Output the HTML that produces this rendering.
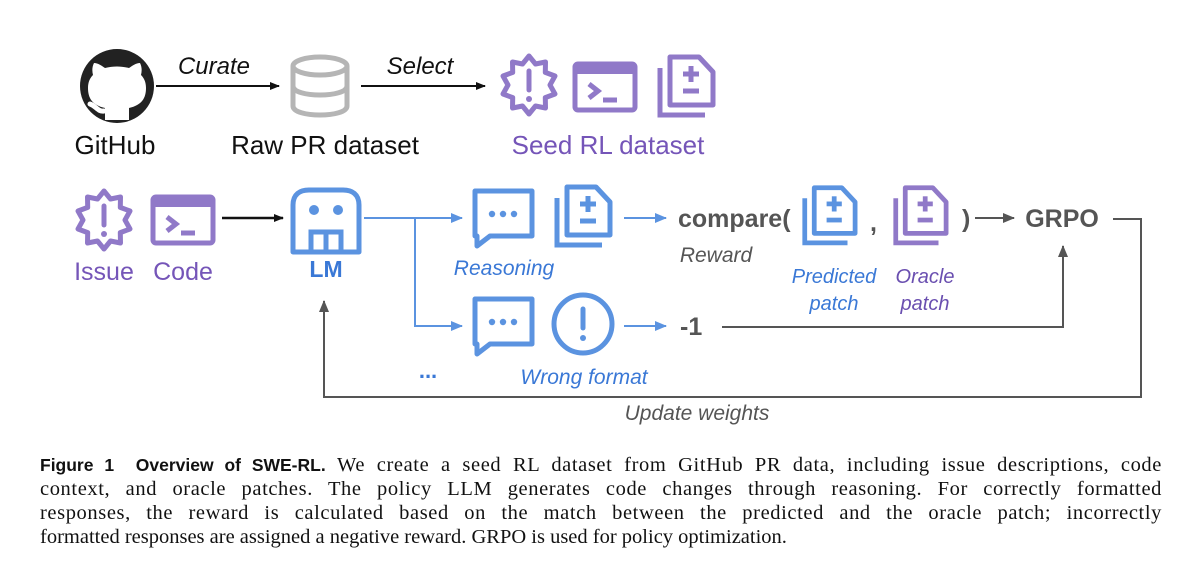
<!DOCTYPE html>
<html><head><meta charset="utf-8"><style>
html,body{margin:0;padding:0;background:#fff;}
body{width:1200px;height:575px;position:relative;overflow:hidden;}
svg{position:absolute;left:0;top:0;}
.s{font-family:"Liberation Sans","DejaVu Sans",sans-serif;}
#cap{position:absolute;left:40px;top:453px;width:1122px;font-family:"Liberation Serif",serif;font-size:20.5px;line-height:24px;color:#111;}
#cap div{text-align:justify;text-align-last:justify;white-space:nowrap;letter-spacing:0.6px;}
#cap div.l{text-align-last:left;letter-spacing:0;}
#cap b{font-family:"Liberation Sans",sans-serif;font-size:17.5px;letter-spacing:0;}
</style></head><body>
<svg width="1200" height="450" viewBox="0 0 1200 450">
<defs>
<marker id="ak" markerWidth="10" markerHeight="8" refX="9" refY="4" orient="auto" markerUnits="userSpaceOnUse"><path d="M0,0 L10,4 L0,8z" fill="#111"/></marker>
<marker id="ab" markerWidth="12" markerHeight="10" refX="11" refY="5" orient="auto" markerUnits="userSpaceOnUse"><path d="M0,0 L12,5 L0,10z" fill="#5b93e0"/></marker>
<marker id="ag" markerWidth="12" markerHeight="10" refX="11" refY="5" orient="auto" markerUnits="userSpaceOnUse"><path d="M0,0 L12,5 L0,10z" fill="#555"/></marker>
<g id="badge">
<polygon points="32,2 38.5,10 48.5,8 48.3,18.4 58,22 53,31 58,40 48.3,43.6 48.5,54 38.5,52 32,60 25.5,52 15.5,54 15.7,43.6 6,40 11,31 6,22 15.7,18.4 15.5,8 25.5,10" fill="none" stroke-width="5" stroke-linejoin="round"/>
<line x1="32" y1="17" x2="32" y2="36" stroke-width="5" stroke-linecap="round"/>
<circle cx="32" cy="45" r="3" stroke="none"/>
</g>
<g id="term">
<rect x="3" y="3" width="60" height="46" rx="3" fill="none" stroke-width="5"/>
<rect x="3" y="3" width="60" height="10" stroke="none"/>
<polyline points="17,23 26,30 17,37" fill="none" stroke-width="5"/>
<line x1="31" y1="39" x2="45" y2="39" stroke-width="5"/>
</g>
<g id="docs">
<polyline points="5,16 5,63 50,63" fill="none" stroke-width="5"/>
<path d="M15,5 H44 L58,20 V53 H15 Z" fill="none" stroke-width="5" stroke-linejoin="round"/>
<line x1="36" y1="14" x2="36" y2="30" stroke-width="5"/>
<line x1="28" y1="22" x2="44" y2="22" stroke-width="5"/>
<line x1="28" y1="39" x2="44" y2="39" stroke-width="5"/>
</g>
<g id="bub">
<path d="M5,5 H62 V50 H20 L7,60 V50 H5 Z" fill="none" stroke="#5b93e0" stroke-width="5" stroke-linejoin="round"/>
<circle cx="22" cy="28" r="3.2" fill="#5b93e0"/><circle cx="33" cy="28" r="3.2" fill="#5b93e0"/><circle cx="44" cy="28" r="3.2" fill="#5b93e0"/>
</g>
</defs>

<circle cx="117" cy="86" r="37" fill="#222"/>
<path d="M105,120 V108 C92,105 88,98 88,88 C88,82 90,78 93,75 C92,71 92,67 94,63 C98,63 102,66 105,68 C113,66 121,66 129,68 C132,66 136,63 140,63 C142,67 142,71 141,75 C144,78 146,82 146,88 C146,98 142,105 129,108 V120 Z" fill="#fff"/>
<path d="M104,111 C98,112 96,106 90,104" fill="none" stroke="#fff" stroke-width="5" stroke-linecap="round"/>
<text x="115" y="154" class="s" font-size="26" text-anchor="middle" fill="#111">GitHub</text>

<line x1="156" y1="86" x2="279" y2="86" stroke="#111" stroke-width="2" marker-end="url(#ak)"/>
<text x="214" y="74" class="s" font-size="24" font-style="italic" text-anchor="middle" fill="#111">Curate</text>

<g fill="none" stroke="#b5b5b5" stroke-width="5">
<ellipse cx="320" cy="66" rx="27" ry="9"/>
<path d="M293,66 V106 C293,118 347,118 347,106 V66"/>
<path d="M293,86 C293,98 347,98 347,86"/>
</g>
<text x="325" y="154" class="s" font-size="26" text-anchor="middle" fill="#111">Raw PR dataset</text>

<line x1="361" y1="86" x2="485" y2="86" stroke="#111" stroke-width="2" marker-end="url(#ak)"/>
<text x="420" y="74" class="s" font-size="24" font-style="italic" text-anchor="middle" fill="#111">Select</text>

<g fill="#9079c8" stroke="#9079c8">
<use href="#badge" transform="translate(497,54)"/>
<use href="#term" transform="translate(572,61)"/>
<use href="#docs" transform="translate(655,52)"/>
</g>
<text x="608" y="154" class="s" font-size="26" text-anchor="middle" fill="#7555b8">Seed RL dataset</text>

<g fill="#9079c8" stroke="#9079c8">
<use href="#badge" transform="translate(72,189)"/>
<use href="#term" transform="translate(150,194)"/>
</g>
<text x="104" y="280" class="s" font-size="25" text-anchor="middle" fill="#7555b8">Issue</text>
<text x="183" y="280" class="s" font-size="25" text-anchor="middle" fill="#7555b8">Code</text>
<line x1="222" y1="218" x2="283" y2="218" stroke="#111" stroke-width="2.5" marker-end="url(#ak)"/>

<path d="M293,252 V205 C293,194 300,190 309,190 H343 C352,190 359,194 359,205 V252 Z" fill="none" stroke="#5b93e0" stroke-width="5" stroke-linejoin="round"/>
<circle cx="314" cy="210" r="5" fill="#5b93e0"/><circle cx="338" cy="210" r="5" fill="#5b93e0"/>
<path d="M311,252 V232 H341 V252 M326,232 V252" fill="none" stroke="#5b93e0" stroke-width="5"/>
<text x="326" y="277" class="s" font-size="23" font-weight="bold" text-anchor="middle" fill="#3a78d6">LM</text>

<line x1="364" y1="218" x2="462" y2="218" stroke="#5b93e0" stroke-width="2" marker-end="url(#ab)"/>
<polyline points="415,218 415,326 462,326" fill="none" stroke="#5b93e0" stroke-width="2" marker-end="url(#ab)"/>
<text x="428" y="378" class="s" font-size="22" font-weight="bold" text-anchor="middle" fill="#3a78d6">...</text>

<use href="#bub" transform="translate(470,186)"/>
<g fill="#5b93e0" stroke="#5b93e0"><use href="#docs" transform="translate(552,182)"/></g>
<text x="504" y="275" class="s" font-size="21" font-style="italic" text-anchor="middle" fill="#3a78d6">Reasoning</text>
<line x1="624" y1="218" x2="666" y2="218" stroke="#5b93e0" stroke-width="2" marker-end="url(#ab)"/>

<text x="678" y="227" class="s" font-size="25" font-weight="bold" fill="#555">compare(</text>
<text x="716" y="262" class="s" font-size="21" font-style="italic" text-anchor="middle" fill="#555">Reward</text>
<g fill="#5b93e0" stroke="#5b93e0"><use href="#docs" transform="translate(800,183) scale(0.95)"/></g>
<text x="870" y="231" class="s" font-size="25" font-weight="bold" fill="#555">,</text>
<g fill="#9079c8" stroke="#9079c8"><use href="#docs" transform="translate(891,183) scale(0.95)"/></g>
<text x="962" y="227" class="s" font-size="25" font-weight="bold" fill="#555">)</text>
<line x1="975" y1="218" x2="1014" y2="218" stroke="#555" stroke-width="2" marker-end="url(#ag)"/>
<text x="1062" y="227" class="s" font-size="25" font-weight="bold" text-anchor="middle" fill="#555">GRPO</text>
<text x="834" y="283" class="s" font-size="20" font-style="italic" text-anchor="middle" fill="#3a78d6">Predicted</text>
<text x="834" y="310" class="s" font-size="20" font-style="italic" text-anchor="middle" fill="#3a78d6">patch</text>
<text x="925" y="283" class="s" font-size="20" font-style="italic" text-anchor="middle" fill="#6a4fb0">Oracle</text>
<text x="925" y="310" class="s" font-size="20" font-style="italic" text-anchor="middle" fill="#6a4fb0">patch</text>

<use href="#bub" transform="translate(470,294)"/>
<circle cx="583" cy="324" r="29" fill="none" stroke="#5b93e0" stroke-width="5"/>
<line x1="583" y1="309" x2="583" y2="328" stroke="#5b93e0" stroke-width="5" stroke-linecap="round"/>
<circle cx="583" cy="338" r="3" fill="#5b93e0"/>
<text x="584" y="384" class="s" font-size="21" font-style="italic" text-anchor="middle" fill="#3a78d6">Wrong format</text>
<line x1="624" y1="326" x2="666" y2="326" stroke="#5b93e0" stroke-width="2" marker-end="url(#ab)"/>
<text x="680" y="335" class="s" font-size="25" font-weight="bold" fill="#555">-1</text>
<polyline points="722,327 1063,327 1063,246" fill="none" stroke="#555" stroke-width="2" marker-end="url(#ag)"/>

<polyline points="1113,219 1141,219 1141,397 324,397 324,301" fill="none" stroke="#555" stroke-width="2" marker-end="url(#ag)"/>
<text x="697" y="420" class="s" font-size="21" font-style="italic" text-anchor="middle" fill="#555">Update weights</text>
</svg>
<div id="cap">
<div><b>Figure 1&nbsp; Overview of SWE-RL.</b> We create a seed RL dataset from GitHub PR data, including issue descriptions, code</div>
<div>context, and oracle patches. The policy LLM generates code changes through reasoning. For correctly formatted</div>
<div>responses, the reward is calculated based on the match between the predicted and the oracle patch; incorrectly</div>
<div class="l">formatted responses are assigned a negative reward. GRPO is used for policy optimization.</div>
</div>
</body></html>
